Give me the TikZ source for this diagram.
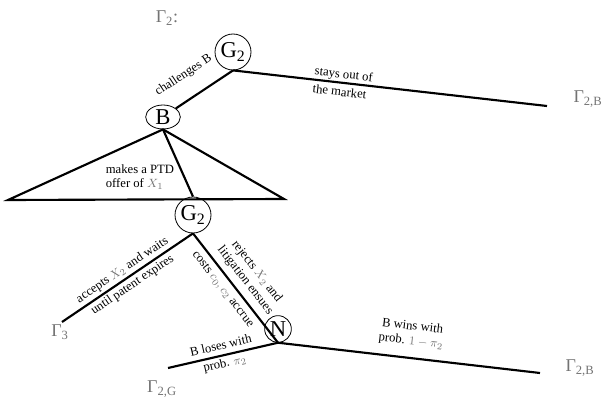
\documentclass[tikz,border=0pt]{standalone}
\usepackage{amsmath}
\usepackage{fontspec}
\setmainfont{Liberation Serif}
\usetikzlibrary{shapes.geometric}

\colorlet{lblgray}{black!55}
\newcommand{\gm}[1]{\textcolor{lblgray}{$#1$}}

\begin{document}
\begin{tikzpicture}[x=0.75pt, y=-0.75pt,
  every node/.style={font=\fontsize{9.5}{11}\selectfont},
  move/.style={line width=1.6pt},
  split/.style={align=center, font=\fontsize{9.5}{13.5}\selectfont},
  player/.style={draw, circle, line width=0.6pt, inner sep=0pt, minimum size=27pt, font=\fontsize{17}{17}\selectfont},
  payoff/.style={text=lblgray, font=\fontsize{13.5}{14}\selectfont}]
	\useasboundingbox (0,0) rectangle (604,399);
	\node[payoff] (gname) at (167,18) {Γ\textsubscript{2}:};
	% decision nodes
	\node[player] (gtop) at (233,52) {G\textsubscript{2}};
	\node[player, ellipse, minimum width=26pt, minimum height=18pt] (bnode) at (163,117) {B};
	\node[player] (gmid) at (193,215) {G\textsubscript{2}};
	\node[player, minimum size=20pt] (nnode) at (278,329) {N};
	% ends of the branches
	\coordinate (outend) at (547,106);
	\coordinate (tl) at (8,200);
	\coordinate (tr) at (284,199);
	\coordinate (waitend) at (62,322);
	\coordinate (loseend) at (168,368);
	\coordinate (winend) at (540,373);
	\node[payoff] (gout) at (588,99) {Γ\textsubscript{2,B}};
	\node[payoff] (gwait) at (60,332) {Γ\textsubscript{3}};
	\node[payoff] (glose) at (162,389) {Γ\textsubscript{2,G}};
	\node[payoff] (gwin) at (580,368) {Γ\textsubscript{2,B}};
	% moves
	\draw[move] (gtop.south) -- (bnode) node[pos=0.64, sloped, above=9pt] (lchal) {challenges B};
	\draw[move] (gtop.south) -- (outend) node[pos=0.35, sloped, split, align=left] (lout) {stays out of\\the market};
	\draw[move] (tl) -- (bnode.south) -- (tr) -- cycle;
	\draw[move] (bnode.south) -- (gmid.north);
	\node[align=left] (loffer) at (140,177) {makes a PTD\\offer of \gm{X_1}};
	\draw[move] (gmid.south) -- (waitend) node[midway, sloped, split] (lwait) {accepts \gm{X_2} and waits\\until patent expires};
	\draw[move] (gmid.south) -- (nnode.south)
		node[pos=0.5, sloped, above=3pt, align=center, inner sep=1pt] (lsue) {rejects \gm{X_2} and\\litigation ensues}
		node[pos=0.45, sloped, below=3pt, inner sep=1pt] (lcost) {costs \gm{c_0,c_2} accrue};
	\draw[move] (nnode.south) -- (loseend) node[midway, sloped, split] (llose) {B loses with\\prob. \gm{\pi_2}};
	\draw[move] (nnode.south) -- (winend) node[midway, sloped, above=4pt, align=center] (lwin) {B wins with\\prob. \gm{1-\pi_2}};
\end{tikzpicture}
\end{document}
